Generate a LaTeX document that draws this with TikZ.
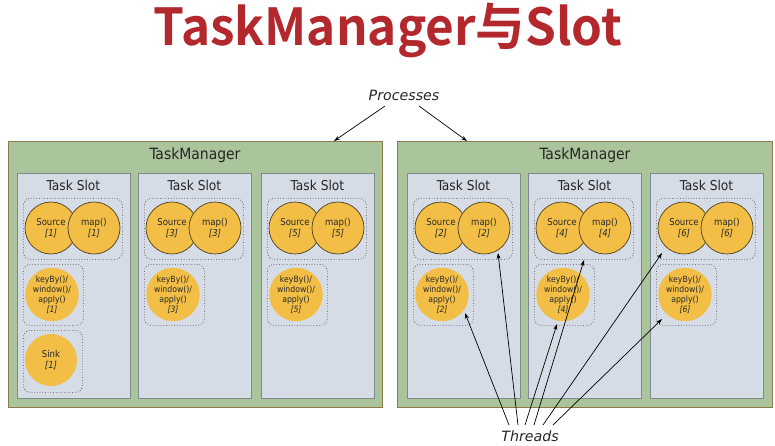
\documentclass[tikz,border=0pt]{standalone}
\usepackage{fontspec}
\setsansfont{DejaVu Sans}
\newfontfamily\condfont{DejaVu Sans Condensed}
\newfontfamily\titlefont{Noto Sans CJK SC}[BoldFont = * Bold]
\usetikzlibrary{arrows.meta,calc}

\definecolor{titlered}{HTML}{B3282D}
\definecolor{tmfill}{HTML}{AAC49C}
\definecolor{tmborder}{HTML}{8C7A4A}
\definecolor{slotfill}{HTML}{D6DCE6}
\definecolor{slotborder}{HTML}{7F8A8F}
\definecolor{opfill}{HTML}{F2BE45}
\definecolor{opborder}{HTML}{4D4026}
\definecolor{optext}{HTML}{2A2A2A}
\definecolor{grpborder}{HTML}{3A3A3A}

\newcommand\opfont{\condfont\fontsize{9.5}{11}\selectfont}
\newcommand\keyfont{\condfont\fontsize{8.6}{10}\selectfont}

\begin{document}
\begin{tikzpicture}[x=1pt,y=-1pt,
  tm/.style={draw=tmborder, fill=tmfill, line width=1pt, inner sep=0pt, anchor=north west},
  slotbox/.style={draw=slotborder, fill=slotfill, line width=0.8pt, inner sep=0pt,
    anchor=north west, minimum width=113pt, minimum height=225pt},
  grp/.style={draw=grpborder, dotted, line width=0.7pt, rounded corners=7pt,
    inner sep=0pt, anchor=north west},
  opc/.style={circle, fill=opfill, minimum size=52pt, inner sep=0pt, align=center,
    font=\opfont, text=optext},
  opb/.style={opc, draw=opborder, line width=0.7pt},
  tmlabel/.style={font=\condfont\fontsize{15.5}{17}\selectfont, text=black!85},
  slotlabel/.style={font=\condfont\fontsize{13.6}{15}\selectfont, text=black!85},
  lbl/.style={font=\sffamily\itshape\fontsize{14.2}{16}\selectfont, text=black!85},
  ptr/.style={-{Stealth[length=6pt,width=4pt]}, line width=0.7pt}
]
\useasboundingbox[fill=white] (0,0) rectangle (775,445);

% title
\node[text=titlered, anchor=base, inner sep=0pt] (title) at (388,45)
  {\scalebox{0.97}[1]{\titlefont\bfseries\fontsize{51}{54}\selectfont TaskManager与Slot}};

% the two TaskManager processes
\node[tm, minimum width=374pt, minimum height=266pt] (tmL) at (8,141) {};
\node[tm, minimum width=375pt, minimum height=266pt] (tmR) at (397,141) {};
\node[tmlabel] (tmLl) at (195,155) {TaskManager};
\node[tmlabel] (tmRl) at (585,155) {TaskManager};

% task slots with their operator chains
\foreach \sx/\n in {17/1,138/3,261/5,407/2,528/4,650/6}{
  \node[slotbox] (slot\n) at (\sx,173) {};
  \node[slotlabel] (slotl\n) at (\sx+56.5,185) {Task Slot};
  \node[grp, minimum width=99pt, minimum height=61pt] (ga\n) at (\sx+6,198) {};
  \node[grp, minimum width=60pt, minimum height=61pt] (gb\n) at (\sx+6,264) {};
  \node[opb] (src\n) at (\sx+34,228) {Source\\\textit{[\n]}};
  \node[opb] (map\n) at (\sx+77,228) {map()\\\textit{[\n]}};
  \node[opc, font=\keyfont] (key\n) at (\sx+35,294.5) {keyBy()/\\window()/\\apply()\\\textit{[\n]}};
}
\node[grp, minimum width=59pt, minimum height=62pt] (gc1) at (23,330) {};
\node[opc] (sink1) at (51,360) {Sink\\\textit{[1]}};

% processes
\node[lbl] (proc) at (404,95) {Processes};
\coordinate (p1) at (385,106);
\coordinate (p2) at (419,106);
\draw[ptr] (p1) -- (tmL.north -| 334,0);
\draw[ptr] (p2) -- (tmR.north -| 467,0);

% threads
\node[lbl] (thr) at (530,436) {Threads};
\coordinate (f1) at (509,425);
\coordinate (f2) at (518,425);
\coordinate (f3) at (525,425);
\coordinate (f4) at (534,425);
\coordinate (f5) at (543,425);
\coordinate (f6) at (553,425);
\coordinate (t1) at (465,313);
\coordinate (t2) at (498,253);
\coordinate (t3) at (557,324);
\coordinate (t4) at (584,260);
\coordinate (t5) at (662,253);
\coordinate (t6) at (662,319);
\foreach \i in {1,...,6}{
  \draw[ptr] (f\i) -- (t\i);
}
\end{tikzpicture}
\end{document}
